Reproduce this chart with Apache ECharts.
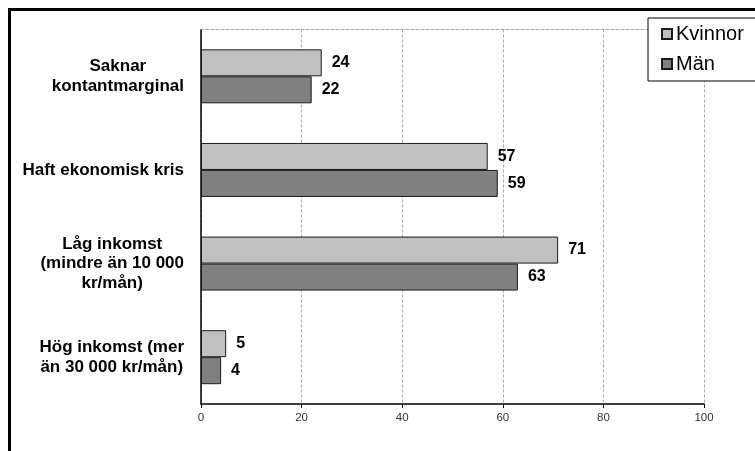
<!DOCTYPE html>
<html>
<head>
<meta charset="utf-8">
<script src="https://cdn.jsdelivr.net/npm/echarts@6/dist/echarts.min.js"></script>
<style>
  html, body { margin: 0; padding: 0; background: #fff; }
  #chart { width: 755px; height: 451px; }
</style>
</head>
<body>
<div id="chart"></div>
<script>
// Survey groups (top to bottom) and share per group, in percent
const categories = [
  'Saknar\nkontantmarginal',
  'Haft ekonomisk kris',
  'Låg inkomst\n(mindre än 10 000\nkr/mån)',
  'Hög inkomst (mer\nän 30 000 kr/mån)'
];
const kvinnor = [24, 57, 71, 5];
const man = [22, 59, 63, 4];
const xTicks = [0, 20, 40, 60, 80, 100];

const chart = echarts.init(document.getElementById('chart'));
const font = 'Liberation Sans, Arial, sans-serif';

const valueLabel = {
  show: true,
  position: 'right',
  distance: 10,
  color: '#000',
  fontFamily: font,
  fontWeight: 'bold',
  fontSize: 16
};

chart.setOption({
  animation: false,
  backgroundColor: '#fff',
  textStyle: { fontFamily: font },
  graphic: [{
    type: 'rect',
    silent: true,
    shape: { x: 9.5, y: 9.5, width: 800, height: 500 },
    style: { fill: 'none', stroke: '#000', lineWidth: 3 }
  }],
  legend: {
    left: 648,
    top: 18,
    orient: 'vertical',
    backgroundColor: '#fff',
    borderColor: '#000',
    borderWidth: 1,
    padding: [6, 60, 7, 13],
    itemWidth: 10,
    itemHeight: 10,
    itemGap: 10,
    icon: 'rect',
    textStyle: { fontFamily: font, fontSize: 20, color: '#000', lineHeight: 20, padding: [0, 0, 0, -1] },
    data: ['Kvinnor', 'Män']
  },
  grid: { left: 201, right: 51, top: 29.5, bottom: 47, containLabel: false },
  xAxis: [{
    type: 'value',
    min: 0,
    max: 100,
    interval: 20,
    axisLine: { show: true, lineStyle: { color: '#000', width: 1.5 } },
    axisTick: { show: true, length: 4, lineStyle: { color: '#000' } },
    axisLabel: {
      margin: 8,
      color: '#333',
      fontSize: 11.5,
      fontFamily: font,
      formatter: v => xTicks.includes(v) ? String(v) : ''
    },
    splitLine: { show: true, lineStyle: { color: '#a8a8a8', type: [3, 2] } }
  }, {
    type: 'value',
    position: 'top',
    min: 0,
    max: 100,
    interval: 20,
    axisLine: { show: true, lineStyle: { color: '#a8a8a8', type: [3, 2] } },
    axisTick: { show: false },
    axisLabel: { show: false },
    splitLine: { show: false }
  }],
  yAxis: {
    type: 'category',
    inverse: true,
    data: categories,
    axisLine: { show: true, lineStyle: { color: '#000', width: 1.5 } },
    axisTick: { show: false },
    axisLabel: {
      margin: 17,
      formatter: v => v.split('\n').map(l => '{a|' + l + '}').join('\n'),
      rich: {
        a: {
          align: 'center',
          fontFamily: font,
          fontWeight: 'bold',
          fontSize: 17,
          lineHeight: 19.5,
          color: '#000'
        }
      }
    }
  },
  series: [{
    name: 'Kvinnor',
    type: 'bar',
    data: kvinnor,
    barWidth: 27,
    barGap: '0%',
    itemStyle: { color: '#c0c0c0', borderColor: '#1a1a1a', borderWidth: 1 },
    label: valueLabel
  }, {
    name: 'Män',
    type: 'bar',
    data: man,
    barWidth: 27,
    barGap: '0%',
    itemStyle: { color: '#808080', borderColor: '#1a1a1a', borderWidth: 1 },
    label: valueLabel
  }]
});
</script>
</body>
</html>
